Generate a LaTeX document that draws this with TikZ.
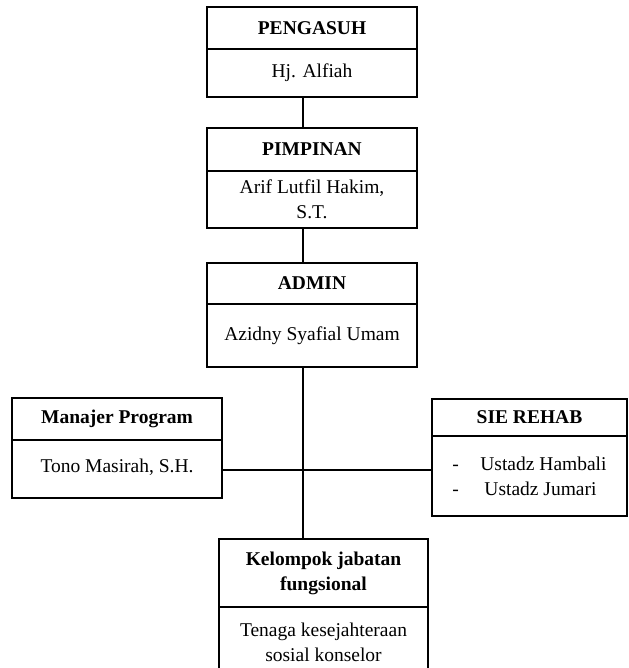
\documentclass[tikz,border=0pt]{standalone}
\usepackage{fontspec}
\setmainfont{Liberation Serif}
\begin{document}
\begin{tikzpicture}[x=1bp,y=-1bp,
  box/.style={draw, line width=1.5bp, rectangle, anchor=north west, inner sep=0pt, outer sep=0pt, align=center,
              font=\fontsize{19.5bp}{25bp}\selectfont},
  hd/.style={box, font=\fontsize{19.5bp}{25bp}\selectfont\bfseries},
  link/.style={line width=1.5bp}
]
\useasboundingbox (0,0) rectangle (629,668);
\clip (0,0) rectangle (629,668);
\coordinate (sx) at (303,0);

% PENGASUH
\node[hd,  minimum width=210bp, minimum height=42bp] (peng-t) at (207,7) {PENGASUH};
\node[box, minimum width=210bp, minimum height=48bp] (peng-b) at (207,49) {Hj. Alfiah};
% PIMPINAN
\node[hd,  minimum width=210bp, minimum height=43bp] (pimp-t) at (207,128) {PIMPINAN};
\node[box, minimum width=210bp, minimum height=57bp] (pimp-b) at (207,171) {Arif Lutfil Hakim,\\S.T.};
% ADMIN
\node[hd,  minimum width=210bp, minimum height=41bp] (adm-t) at (207,263) {ADMIN};
\node[box, minimum width=210bp, minimum height=63bp] (adm-b) at (207,304) {\raisebox{3bp}{Azidny Syafial Umam}};
% Manajer Program
\node[hd,  minimum width=210bp, minimum height=42bp] (man-t) at (12,398) {Manajer Program};
\node[box, minimum width=210bp, minimum height=58bp] (man-b) at (12,440) {\raisebox{6bp}{Tono Masirah, S.H.}};
% SIE REHAB
\node[hd,  minimum width=195bp, minimum height=37bp] (sie-t) at (432,399) {SIE REHAB};
\node[box, minimum width=195bp, minimum height=80bp, align=left] (sie-b) at (432,436)
  {\makebox[28bp][l]{-}Ustadz Hambali\\\makebox[32bp][l]{-}Ustadz Jumari};
% Kelompok jabatan fungsional
\node[hd,  minimum width=209bp, minimum height=68bp] (kel-t) at (219,539) {Kelompok jabatan\\fungsional};
\node[box, minimum width=209bp, minimum height=70bp] (kel-b) at (219,607) {Tenaga kesejahteraan\\sosial konselor};

% connectors
\draw[link] (peng-b.south -| sx) -- (pimp-t.north -| sx);
\draw[link] (pimp-b.south -| sx) -- (adm-t.north -| sx);
\draw[link] (adm-b.south -| sx) -- (kel-t.north -| sx);
\draw[link] (man-b.east) ++(0,1) coordinate (hl) -- (hl -| sie-b.west);
\end{tikzpicture}
\end{document}
